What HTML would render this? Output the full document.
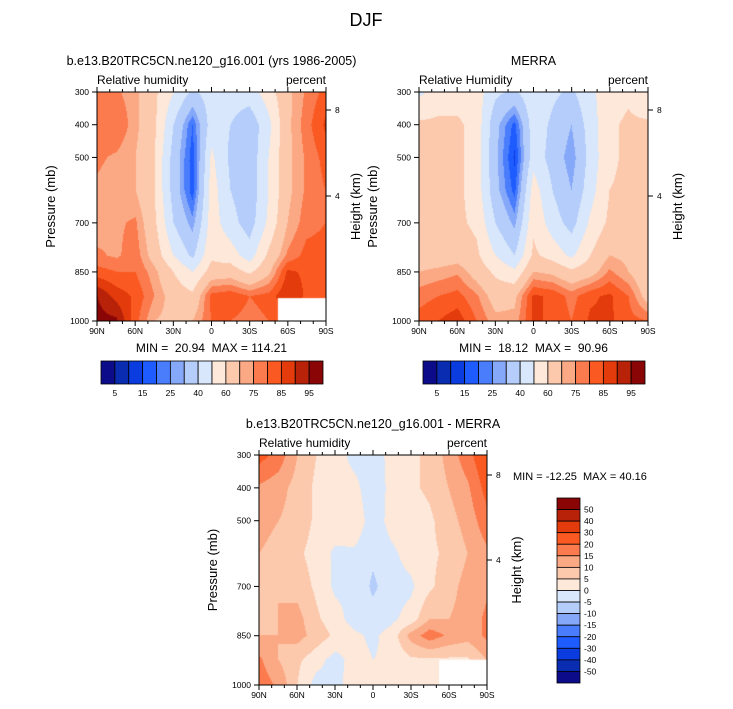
<!DOCTYPE html>
<html><head><meta charset="utf-8">
<style>
html,body{margin:0;padding:0;background:#fff;}
#wrap{position:relative;width:733px;height:709px;overflow:hidden;font-family:"Liberation Sans",sans-serif;}
canvas{position:absolute;}
svg{position:absolute;left:0;top:0;}
text{font-family:"Liberation Sans",sans-serif;fill:#000;white-space:pre;}
</style></head>
<body>
<div id="wrap">
<canvas id="c1" width="229" height="229" style="left:97px;top:92px"></canvas>
<canvas id="c2" width="229" height="229" style="left:419px;top:92px"></canvas>
<canvas id="c3" width="228" height="230" style="left:259px;top:455px"></canvas>
<svg id="s" width="733" height="709"></svg>
</div>
<script>
const lats = ["90N","75N","60N","45N","30N","15N","0","15S","30S","45S","60S","75S","90S"];
const levels = [300,400,500,600,700,800,850,925,1000];
const xTickLabels = ["90N","60N","30N","0","30S","60S","90S"];
const yTickLabels = [300,400,500,700,850,1000];
const rhLevels = [5,10,15,20,25,30,40,50,60,70,75,80,85,90,95];
const rhLabels = [5,15,25,40,60,75,85,95];
const diffLevels = [-50,-40,-30,-20,-15,-10,-5,0,5,10,15,20,30,40,50];
const colors = ["#0c0c8a","#0a2cb0","#0a3ce0","#1f5cff","#4a7dfc","#86a8f9","#b5cdfa","#d8e7fb","#fde8da","#fcc9ad","#fba985","#fb7b4e","#fa5a22","#e33b0b","#b82208","#8a0606"];
const modelRH = [
[78,76,72,62,50,38,45,45,45,55,68,76,82],
[78,80,72,62,40,20,45,40,33,47,68,78,86],
[76,74,70,60,36,17,52,38,33,50,68,76,82],
[74,72,70,60,36,17,55,40,33,50,68,76,80],
[72,74,76,62,40,27,55,44,35,52,70,78,80],
[76,74,78,66,50,38,58,55,45,62,76,82,82],
[82,80,80,72,60,50,64,65,58,68,86,84,82],
[95,88,84,75,66,62,82,84,80,82,90,84,84],
[97,96,82,70,68,70,80,80,78,80,80,80,80]];
const merraRH = [
[48,55,55,55,42,38,48,42,38,48,55,58,50],
[62,62,62,56,33,18,46,38,30,45,58,62,62],
[62,62,62,56,32,14,46,36,26,44,58,62,62],
[62,62,62,56,33,18,55,40,30,46,60,62,70],
[62,62,62,58,40,28,58,45,36,52,62,64,62],
[64,64,66,62,50,40,62,56,48,60,70,68,62],
[70,72,74,66,58,52,70,68,62,66,76,70,62],
[78,80,82,76,66,68,86,84,78,84,86,80,66],
[82,85,88,80,72,72,86,84,80,86,86,82,80]];
const diffRH = [
[22,18,10,5,3,-2,-3,2,4,6,12,18,25],
[14,12,8,4,3,2,-4,2,4,6,10,14,22],
[12,10,8,4,3,4,-3,2,2,4,8,12,18],
[10,8,6,3,-1,-1,-4,-1,2,4,6,10,14],
[10,10,8,4,-1,-1,-6,-2,-1,4,8,12,14],
[8,10,12,6,2,-2,-3,-1,2,10,10,12,16],
[10,10,12,8,4,1,-1,2,12,18,14,12,16],
[16,10,6,2,-2,2,0,1,4,4,4,4,10],
[18,14,5,-2,-2,3,2,2,2,2,2,2,4]];

const NS="http://www.w3.org/2000/svg";
const svg=document.getElementById('s');
function el(tag,attrs,parent){const e=document.createElementNS(NS,tag);for(const k in attrs)e.setAttribute(k,attrs[k]);(parent||svg).appendChild(e);return e;}
function txt(x,y,s,size,anchor,parent,rot){const t=el('text',{x:x,y:y,'font-size':size,'text-anchor':anchor||'start'},parent);if(rot)t.setAttribute('transform','rotate(-90 '+x+' '+y+')');t.textContent=s;return t;}
function colorFor(v,lv){let i=0;while(i<lv.length&&v>=lv[i])i++;return colors[i];}
function sample(grid,fx,fy){
  const p=300+fy*700;let r=0;while(r<levels.length-2&&p>levels[r+1])r++;
  let ty=(p-levels[r])/(levels[r+1]-levels[r]);
  const c=fx*(lats.length-1);let ci=Math.min(Math.floor(c),lats.length-2);let tx=c-ci;
  const a=grid[r][ci],b=grid[r][ci+1],cc=grid[r+1][ci],d=grid[r+1][ci+1];
  return (a*(1-tx)+b*tx)*(1-ty)+(cc*(1-tx)+d*tx)*ty;
}
function drawField(id,grid,lv,hole){
  const cv=document.getElementById(id),ctx=cv.getContext('2d');const W=cv.width,H=cv.height;
  for(let y=0;y<H;y++)for(let x=0;x<W;x++){ctx.fillStyle=colorFor(sample(grid,x/(W-1),y/(H-1)),lv);ctx.fillRect(x,y,1,1);}
  if(hole){ctx.fillStyle='#fff';ctx.fillRect(hole[0]*W,hole[1]*H,W,H);}
}
drawField('c1',modelRH,rhLevels,[0.79,0.9]);
drawField('c2',merraRH,rhLevels,null);
drawField('c3',diffRH,diffLevels,[0.79,0.89]);

function axes(name,x0,y0,w,h,title,sub,h8,h4,minmax){
  const g=el('g',{});
  
  
  el('rect',{x:x0,y:y0,width:w,height:h,fill:'none',stroke:'#000','stroke-width':1},g);
  txt(x0+w/2,y0-27,title,12.5,'middle',g);
  txt(x0,y0-8,sub,12,'start',g);
  txt(x0+w,y0-8,'percent',12,'end',g);
  for(let d=0;d<=180;d+=10){const x=x0+w*d/180;const L=d%30===0?5:3;
    el('line',{x1:x,y1:y0,x2:x,y2:y0-L,stroke:'#000'},g);el('line',{x1:x,y1:y0+h,x2:x,y2:y0+h+L,stroke:'#000'},g);}
  xTickLabels.forEach((s,i)=>txt(x0+w*i/6,y0+h+13,s,8.5,'middle',g));
  yTickLabels.forEach(p=>{const y=y0+h*(p-300)/700;el('line',{x1:x0-5,y1:y,x2:x0,y2:y,stroke:'#000'},g);txt(x0-8,y+3,String(p),8.5,'end',g);});
  txt(x0-42,y0+h/2,'Pressure (mb)',13,'middle',g,true);
  [[8,h8],[4,h4]].forEach(a=>{el('line',{x1:x0+w,y1:a[1],x2:x0+w+5,y2:a[1],stroke:'#000'},g);txt(x0+w+9,a[1]+3,String(a[0]),8.5,'start',g);});
  txt(x0+w+34,y0+h/2,'Height (km)',13,'middle',g,true);
  if(minmax)txt(x0+w/2,y0+h+31,minmax,12,'middle',g);
}
txt(366,26,'DJF',18,'middle');
axes('model-panel',97,92,229,229,'b.e13.B20TRC5CN.ne120_g16.001 (yrs 1986-2005)','Relative humidity',110,196,'MIN =  20.94  MAX = 114.21');
axes('merra-panel',419,92,229,229,'MERRA','Relative Humidity',110,196,'MIN =  18.12  MAX =  90.96');
axes('diff-panel',259,455,228,230,'b.e13.B20TRC5CN.ne120_g16.001 - MERRA','Relative humidity',475,560,null);
txt(513,480,'MIN = -12.25  MAX = 40.16',11,'start');

function hbar(name,x0,y0,w,h){
  const g=el('g',{});
  
  
  const bw=w/colors.length;
  colors.forEach((c,i)=>el('rect',{x:x0+i*bw,y:y0,width:bw,height:h,fill:c,stroke:'#000','stroke-width':0.8},g));
  rhLevels.forEach((v,i)=>{if(rhLabels.includes(v))txt(x0+(i+1)*bw,y0+h+12,String(v),8.5,'middle',g);});
}
hbar('model-colorbar',101,361,222,23);
hbar('merra-colorbar',423,361,222,23);
(function(){
  const g=el('g',{});
  
  
  const x0=557,y0=498,w=23,h=185,bh=h/colors.length;
  colors.slice().reverse().forEach((c,i)=>el('rect',{x:x0,y:y0+i*bh,width:w,height:bh,fill:c,stroke:'#000','stroke-width':0.8},g));
  diffLevels.slice().reverse().forEach((v,i)=>txt(x0+w+4,y0+(i+1)*bh+3,String(v),8.5,'start',g));
})();
</script>
</body></html>
